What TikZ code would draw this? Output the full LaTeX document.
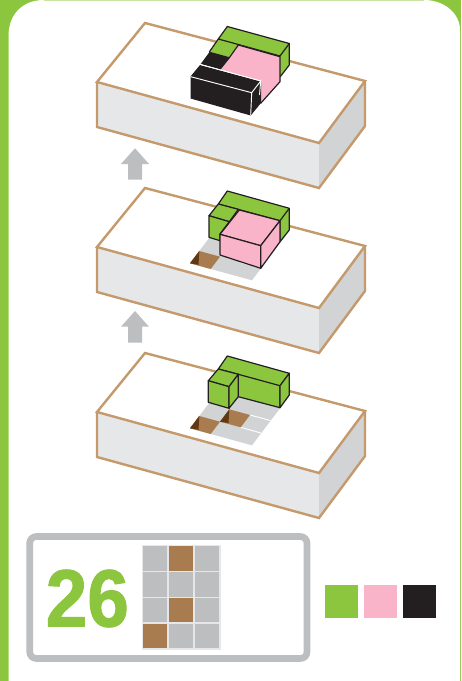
\documentclass[tikz,border=0pt]{standalone}
\usepackage{fontspec}
\setmainfont{Liberation Sans}
\newfontface\numfont{Liberation Sans Bold}[FakeStretch=0.92,FakeBold=1.2]
\definecolor{gr}{HTML}{8CC63F}
\definecolor{lgr}{HTML}{C9E3A0}
\definecolor{pk}{HTML}{F9B4C9}
\definecolor{blk}{HTML}{231F20}
\definecolor{tan}{HTML}{C49A6C}
\definecolor{frontg}{HTML}{E6E7E8}
\definecolor{sideg}{HTML}{D1D3D4}
\definecolor{cardg}{HTML}{BCBEC0}
\definecolor{brn}{HTML}{A97C50}
\definecolor{dbrn}{HTML}{603913}
\tikzset{
  edge/.style={draw=blk,line width=0.9pt,line join=round},
  gface/.style={edge,fill=gr},
  pface/.style={edge,fill=pk},
  kface/.style={fill=blk},
  wline/.style={draw=white,line width=0.7pt},
  arrowshape/.style={fill=cardg},
  cell/.style={fill=cardg},
  bcell/.style={fill=brn},
  swatch/.style={inner sep=0pt,minimum width=24.75pt,minimum height=24.75pt,anchor=north west}
}
\newcommand{\baseblock}{%
  \fill[frontg] (97,82) -- (319,143) -- (319,188) -- (97,127) -- cycle;
  \fill[sideg] (319,143) -- (365,81) -- (365,126) -- (319,188) -- cycle;
  \draw[tan,line width=1.8pt,line join=miter] (97,82) -- (145,23) -- (365,81) -- (319,143) -- cycle;
  \draw[tan,line width=1.8pt,line join=miter] (97,82) -- (97,127) -- (319,188) -- (365,126) -- (365,81);
}
\newcommand{\holegrid}{%
  \fill[sideg] (190,98.3) -- (252,115.3) -- (289.3,66) -- (227.3,49) -- cycle;
  \draw[wline] (250,85) -- (270.5,90.5);
  \draw[wline] (240.7,97.3) -- (261,103);
  \fill[brn] (190,98.3) -- (199.3,86) -- (220,91.7) -- (210.7,104) -- cycle;
  \fill[dbrn] (190,98.3) -- (199.3,86) -- (198.5,99.8) -- cycle;
}
\begin{document}
\begin{tikzpicture}[x=0.75pt,y=-0.75pt]
\useasboundingbox (0,0) rectangle (461,681);
\fill[gr] (0,0) rectangle (461,681);
\fill[white] (8.5,681) -- (8.5,36) .. controls (8.5,15) and (22,0) .. (44,0) -- (424,0) .. controls (445,0) and (460,14) .. (460,30) -- (460,681) -- cycle;
\fill[lgr] (44,0) -- (424,0) -- (424,1) -- (44,1) -- cycle;

% stage 1
\baseblock
\begin{scope}
  \fill[gr] (227.3,26.5) -- (289.3,43.5) -- (289.3,65) -- (280,77) -- (280,56) -- (238.3,44.5) -- (229,57) -- (209,52) -- cycle;
  \draw[edge] (227.3,26.5) -- (289.3,43.5) -- (280,56) -- (218.3,39) -- cycle;
  \draw[edge] (289.3,43.5) -- (289.3,65) -- (280,77);
  \draw[edge] (218.3,39) -- (209.3,52);
  \fill[pk] (239.3,45) -- (280,56.7) -- (280,81.7) -- (260.7,103.3) -- (260.7,81) -- (220,69.3) -- cycle;
  \draw[edge] (238.3,45) -- (280,56.7) -- (280,81.7) -- (260.7,103.3);
  \draw[edge] (238.3,45) -- (229.3,57.7);
  \fill[kface] (209.3,52.3) -- (229.3,57.7) -- (220,69.3) -- (200.7,64) -- cycle;
  \draw[edge] (209.3,52.3) -- (229.3,57.7) -- (220,69.3);
  \fill[kface] (200,65) -- (261,81.5) -- (261,103) -- (250.7,115.5) -- (190.5,98.5) -- (190.5,76.5) -- cycle;
  \draw[wline] (200.5,64.5) -- (261,81);
  \draw[wline] (190.7,76.7) -- (251.7,92.7) -- (250.7,115);
  \draw[wline] (251.7,92.7) -- (260.7,81) -- (259.5,95);
\end{scope}

% arrow 1
\fill[arrowshape] (135,148.3) -- (149,164) -- (142,164) -- (142,179.5) -- (128,179.5) -- (128,164) -- (121,164) -- cycle;

% stage 2
\begin{scope}[yshift=-123.75pt]
  \baseblock
  \holegrid
  \draw[gface] (227.3,26) -- (289.3,43.3) -- (289.3,65) -- (280,76.7) -- (280,55.7) -- (218.3,39) -- cycle;
  \draw[edge] (289.3,43.3) -- (280,55.7);
  \draw[gface] (218.3,39) -- (238.3,44.3) -- (229.3,56.7) -- (209,50.7) -- cycle;
  \draw[gface] (209,50.7) -- (229.3,56.7) -- (220,69) -- (220,75.7) -- (209,72.3) -- cycle;
  \draw[pface] (239.3,45) -- (280,55.7) -- (260.7,80.7) -- (220,69.3) -- cycle;
  \draw[pface] (220,69.3) -- (260.7,80.7) -- (260.7,103.3) -- (220,90) -- cycle;
  \draw[pface] (260.7,80.7) -- (280,55.7) -- (280,76.7) -- (260.7,103.3) -- cycle;
\end{scope}

% arrow 2
\fill[arrowshape] (135,311) -- (149,326.7) -- (142,326.7) -- (142,342.5) -- (128,342.5) -- (128,326.7) -- (121,326.7) -- cycle;

% stage 3
\begin{scope}[yshift=-247.5pt]
  \baseblock
  \holegrid
  \fill[brn] (220,91.7) -- (229.3,79.3) -- (250,85) -- (240.7,97.3) -- cycle;
  \fill[dbrn] (220,91.7) -- (229.3,79.3) -- (228.5,93) -- cycle;
  \draw[gface] (227.3,26) -- (289.3,43.3) -- (280,55.7) -- (280,77.7) -- (238.3,66.7) -- (238.3,44.3) -- (218.3,39) -- cycle;
  \draw[edge] (238.3,44.3) -- (280,55.7);
  \draw[gface] (280,55.7) -- (289.3,43.3) -- (289.3,65) -- (280,77.7) -- cycle;
  \draw[gface] (218.3,39) -- (238.3,44.3) -- (229,56.7) -- (208.3,50.7) -- cycle;
  \draw[gface] (208.3,50.7) -- (229,56.7) -- (229,78.3) -- (208.3,72.3) -- cycle;
  \draw[gface] (229,56.7) -- (238.3,44.3) -- (238.3,66.7) -- (229,78.3) -- cycle;
\end{scope}

% card
\draw[cardg,line width=5pt,fill=white,rounded corners=5pt] (29.7,536.5) rectangle (307,658.5);
\node[inner sep=0pt,anchor=base,text=gr,font=\fontsize{61}{61}\selectfont\numfont] (num) at (87.3,626.5) {26};
\fill[frontg] (141.7,545) rectangle (220.7,649.5);
\foreach \c/\r in {0/0,2/0,0/1,1/1,2/1,0/2,2/2,1/3,2/3} {
  \fill[cell] ({142.7+\c*25.9},{546+\r*25.9}) rectangle ++(24.6,24.6);
}
\foreach \c/\r in {1/0,1/2,0/3} {
  \fill[bcell] ({142.7+\c*25.9},{546+\r*25.9}) rectangle ++(24.6,24.6);
}
\node[swatch,fill=gr] (s1) at (325,585) {};
\node[swatch,fill=pk] (s2) at (364,585) {};
\node[swatch,fill=blk] (s3) at (403,585) {};
\end{tikzpicture}
\end{document}
